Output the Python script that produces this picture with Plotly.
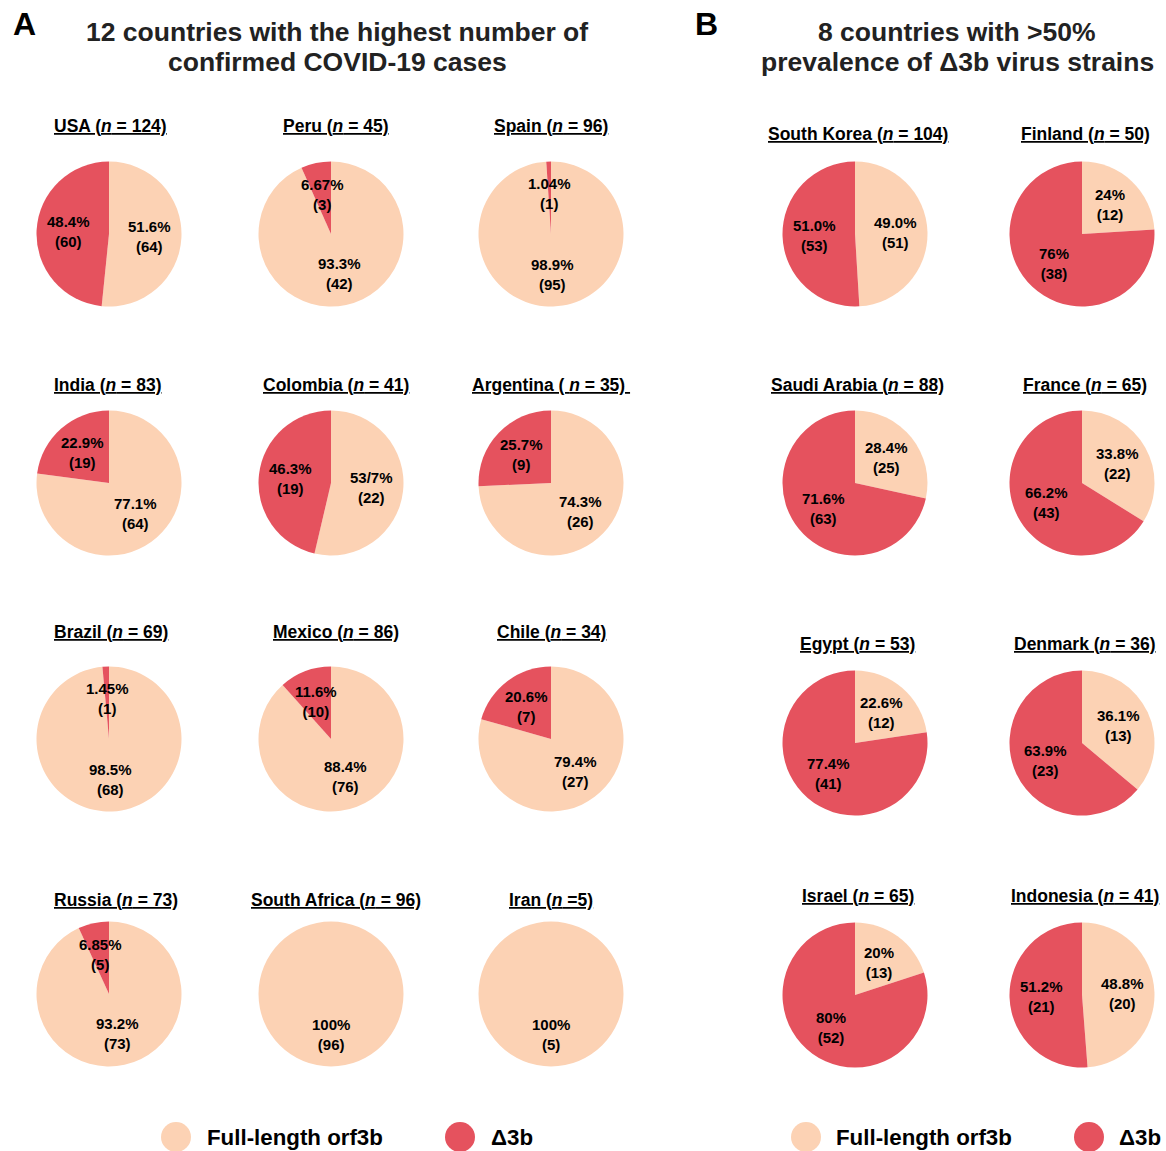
import math
import plotly.graph_objects as go

# ---------------- data ----------------
FULL_NAME = "Full-length orf3b"
DELTA_NAME = "Δ3b"

a_titles = ["USA (<i>n</i> = 124)", "Peru (<i>n</i> = 45)", "Spain (<i>n</i> = 96)",
            "India (<i>n</i> = 83)", "Colombia (<i>n</i> = 41)", "Argentina ( <i>n</i> = 35) ",
            "Brazil (<i>n</i> = 69)", "Mexico (<i>n</i> = 86)", "Chile (<i>n</i> = 34)",
            "Russia (<i>n</i> = 73)", "South Africa (<i>n</i> = 96)", "Iran (<i>n</i> =5)"]
a_full = [64, 42, 95, 64, 22, 26, 68, 76, 27, 68, 96, 5]
a_delta = [60, 3, 1, 19, 19, 9, 1, 10, 7, 5, 0, 0]
a_full_pct = ["51.6%", "93.3%", "98.9%", "77.1%", "53/7%", "74.3%", "98.5%", "88.4%", "79.4%", "93.2%", "100%", "100%"]
a_delta_pct = ["48.4%", "6.67%", "1.04%", "22.9%", "46.3%", "25.7%", "1.45%", "11.6%", "20.6%", "6.85%", "", ""]
a_full_cnt = ["64", "42", "95", "64", "22", "26", "68", "76", "27", "73", "96", "5"]
a_delta_cnt = ["60", "3", "1", "19", "19", "9", "1", "10", "7", "5", "", ""]

b_titles = ["South Korea (<i>n</i> = 104)", "Finland (<i>n</i> = 50)",
            "Saudi Arabia (<i>n</i> = 88)", "France (<i>n</i> = 65)",
            "Egypt (<i>n</i> = 53)", "Denmark (<i>n</i> = 36)",
            "Israel (<i>n</i> = 65)", "Indonesia (<i>n</i> = 41)"]
b_full = [51, 12, 25, 22, 12, 13, 13, 20]
b_delta = [53, 38, 63, 43, 41, 23, 52, 21]
b_full_pct = ["49.0%", "24%", "28.4%", "33.8%", "22.6%", "36.1%", "20%", "48.8%"]
b_delta_pct = ["51.0%", "76%", "71.6%", "66.2%", "77.4%", "63.9%", "80%", "51.2%"]
b_full_cnt = ["51", "12", "25", "22", "12", "13", "13", "20"]
b_delta_cnt = ["53", "38", "63", "43", "41", "23", "52", "21"]

heading_a = ["12 countries with the highest number of", "confirmed COVID-19 cases"]
heading_b = ["8 countries with >50%", "prevalence of Δ3b virus strains"]

# ---------------- layout constants ----------------
W, H = 1166, 1151
FULL_COLOR = "#FCD2B4"
DELTA_COLOR = "#E5525E"
FONT = "Liberation Sans, Arial, Helvetica, sans-serif"
R = 72.5  # pie radius px
LABEL_R = 0.56

a_cols_x = [109, 331, 551]
a_rows_y = [234, 483, 739, 994]
a_title_y = [126, 385, 632, 900]
a_title_x = [52, 336, 551]
b_cols_x = [855, 1082]
b_rows_y = [234, 483, 743, 995]
b_title_y = [134, 385, 644, 896]
b_title_x = [858, 1085]


def px(x):
    return x / W


def py(y):
    return 1 - y / H


fig = go.Figure()
annotations = []


def add_pie(cx, cy, title, tx, ty, t_anchor, full, delta, fpct, dpct, fcnt, dcnt):
    fig.add_trace(go.Pie(
        values=[full, delta],
        labels=[FULL_NAME, DELTA_NAME],
        marker=dict(colors=[FULL_COLOR, DELTA_COLOR], line=dict(width=0)),
        sort=False, direction="clockwise", rotation=0,
        textinfo="none", hoverinfo="label+value+percent",
        showlegend=False,
        domain=dict(x=[px(cx - R), px(cx + R)], y=[py(cy + R), py(cy - R)]),
    ))
    annotations.append(dict(
        x=px(tx), y=py(ty), xref="paper", yref="paper", xanchor=t_anchor, yanchor="middle",
        text=title, showarrow=False,
        font=dict(family=FONT, size=17.5, color="black", weight="bold", lineposition="under"),
    ))
    total = full + delta
    start = 0.0
    for val, pct, cnt in [(full, fpct, fcnt), (delta, dpct, dcnt)]:
        if val <= 0:
            continue
        mid = (start + val / 2) / total * 2 * math.pi
        start += val
        lx = cx + LABEL_R * R * math.sin(mid)
        ly = cy - LABEL_R * R * math.cos(mid)
        annotations.append(dict(
            x=px(lx), y=py(ly), xref="paper", yref="paper", xanchor="center", yanchor="middle",
            text=f"{pct}<br>({cnt})", showarrow=False,
            font=dict(family=FONT, size=15, color="black", weight="bold"),
        ))


for i in range(12):
    r, c = divmod(i, 3)
    add_pie(a_cols_x[c], a_rows_y[r], a_titles[i], a_title_x[c], a_title_y[r],
            "left" if c == 0 else "center",
            a_full[i], a_delta[i], a_full_pct[i], a_delta_pct[i], a_full_cnt[i], a_delta_cnt[i])

for i in range(8):
    r, c = divmod(i, 2)
    add_pie(b_cols_x[c], b_rows_y[r], b_titles[i], b_title_x[c], b_title_y[r], "center",
            b_full[i], b_delta[i], b_full_pct[i], b_delta_pct[i], b_full_cnt[i], b_delta_cnt[i])

# Panel letters and headings
for letter, x in [("A", 11), ("B", 693)]:
    annotations.append(dict(x=px(x), y=py(24), xref="paper", yref="paper", xanchor="left", yanchor="middle",
                            text=letter, showarrow=False,
                            font=dict(family=FONT, size=32, color="black", weight="bold")))
for lines, hx in [(heading_a, 337), (heading_b, 957)]:
    for line, ly in zip(lines, [32, 62]):
        annotations.append(dict(x=px(hx), y=py(ly), xref="paper", yref="paper", xanchor="center",
                                yanchor="middle", text=line, showarrow=False,
                                font=dict(family=FONT, size=26.5, color="#222222", weight="bold")))

# Legends (two, one per panel)
shapes = []
legend_items = [(176, 205, FULL_COLOR, FULL_NAME), (460, 489, DELTA_COLOR, DELTA_NAME),
                (806, 834, FULL_COLOR, FULL_NAME), (1089, 1117, DELTA_COLOR, DELTA_NAME)]
LEG_Y = 1137
for ccx, tx, col, name in legend_items:
    shapes.append(dict(type="circle", xref="paper", yref="paper", xsizemode="pixel", ysizemode="pixel",
                       xanchor=px(ccx), yanchor=py(LEG_Y), x0=-15, x1=15, y0=-15, y1=15,
                       fillcolor=col, line=dict(width=0)))
    annotations.append(dict(x=px(tx), y=py(LEG_Y), xref="paper", yref="paper", xanchor="left", yanchor="middle",
                            text=name, showarrow=False,
                            font=dict(family=FONT, size=22.3, color="black", weight="bold")))

fig.update_layout(
    width=W, height=H,
    margin=dict(l=0, r=0, t=0, b=0),
    paper_bgcolor="white", plot_bgcolor="white",
    annotations=annotations, shapes=shapes,
    showlegend=False,
)

fig.write_html("out.html", config={"displayModeBar": False},
               post_script="document.body.style.margin='0';")
